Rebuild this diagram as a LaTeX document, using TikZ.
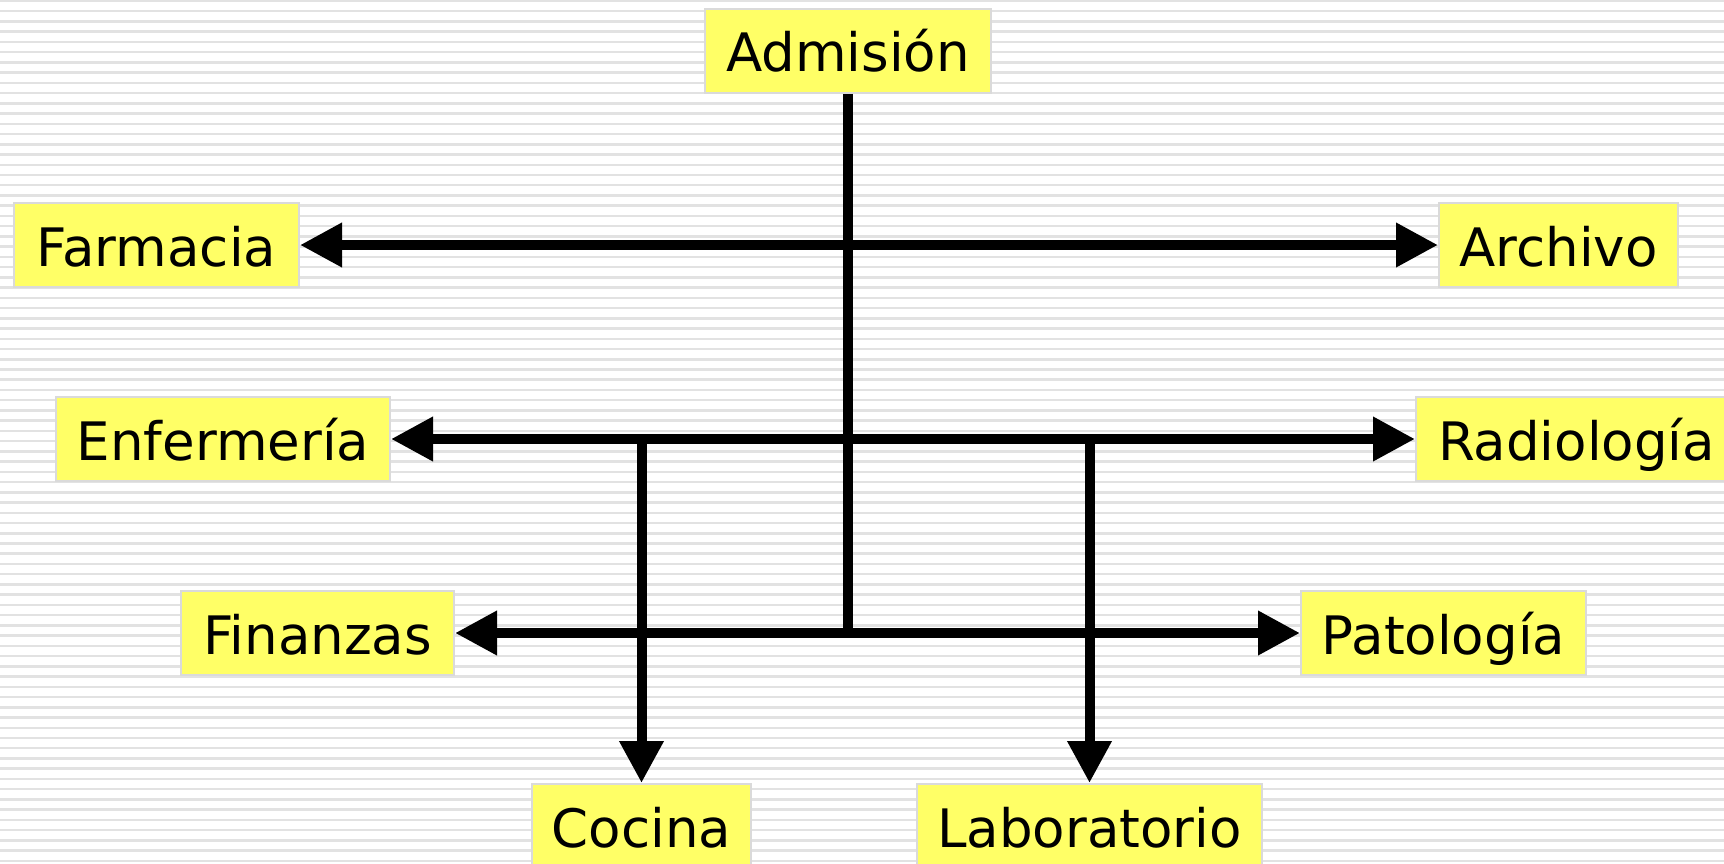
\documentclass[tikz,border=0pt]{standalone}
\usepackage{fontspec}
\setmainfont{DejaVu Sans}
\usetikzlibrary{arrows.meta}
\definecolor{boxfill}{HTML}{FFFF66}
\definecolor{boxedge}{HTML}{DADADA}
\definecolor{stripecol}{HTML}{E2E2E2}
\tikzset{
  deptbox/.style={draw=boxedge, line width=2pt, fill=boxfill, inner sep=0pt,
    minimum height=84pt, text height=42pt, text depth=0pt,
    font=\fontsize{53}{60}\selectfont},
  conn/.style={line width=10pt, draw=black},
  oneway/.style={conn, -{Triangle[length=42pt,width=42pt]}},
  twoway/.style={conn, {Triangle[length=42pt,width=42pt]}-{Triangle[length=42pt,width=42pt]}},
  stripeline/.style={draw=stripecol, line width=2.5pt}
}
\begin{document}
\begin{tikzpicture}[x=1pt,y=-1pt]
\useasboundingbox (0,0) rectangle (1724,864);
\clip (0,0) rectangle (1724,864);
\fill[white] (0,0) rectangle (1724,864);
\foreach \k in {0,...,84}{
  \draw[stripeline] (0,{1+10.236*\k}) -- (1724,{1+10.236*\k});
}
\node[deptbox, minimum width=286pt] (adm) at (848,51) {Admisión};
\node[deptbox, minimum width=285pt] (farm) at (156.5,245) {Farmacia};
\node[deptbox, minimum width=239pt] (arch) at (1558.5,245) {Archivo};
\node[deptbox, minimum width=334pt] (enf) at (223,439) {Enfermería};
\node[deptbox, minimum width=321pt] (rad) at (1576.5,439) {Radiología};
\node[deptbox, minimum width=273pt] (fin) at (317.5,633) {Finanzas};
\node[deptbox, minimum width=285pt] (pat) at (1443.5,633) {Patología};
\node[deptbox, minimum width=219pt] (coc) at (641.5,826) {Cocina};
\node[deptbox, minimum width=345pt] (lab) at (1089.5,826) {Laboratorio};
\draw[conn] (adm.south) -- (adm.south |- fin.east);
\draw[twoway] (farm.east) -- (arch.west);
\draw[twoway] (enf.east) -- (rad.west);
\draw[twoway] (fin.east) -- (pat.west);
\draw[oneway] (coc.north |- enf.east) -- (coc.north);
\draw[oneway] (lab.north |- enf.east) -- (lab.north);
\end{tikzpicture}
\end{document}
